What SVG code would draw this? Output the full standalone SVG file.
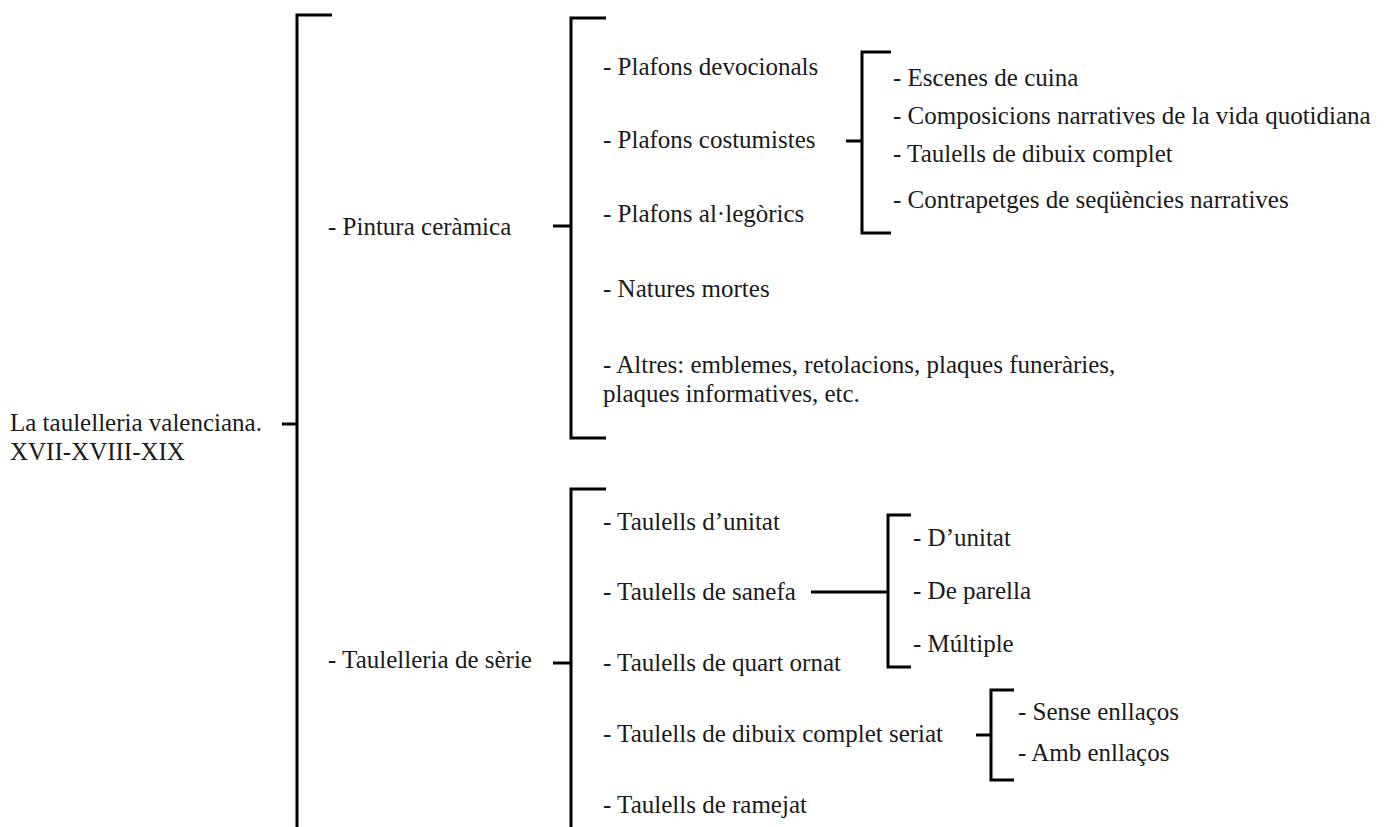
<svg xmlns="http://www.w3.org/2000/svg" width="1385" height="827" viewBox="0 0 1385 827">
<style>
.t{font-family:'Liberation Serif','Times New Roman',Times,'DejaVu Serif','Noto Serif',serif;font-size:25px;fill:#1a1a1a}
.br{fill:none;stroke:#000;stroke-width:3}
</style>
<rect width="1385" height="827" fill="#fff"/>
<g id="connectors">
<path class="br" d="M282,424 H297"/>
<path class="br" d="M332,15 H297 V827"/>
<path class="br" d="M553,226 H571"/>
<path class="br" d="M606,18 H571 V438 H606"/>
<path class="br" d="M846,141 H862"/>
<path class="br" d="M891,52 H862 V233 H891"/>
<path class="br" d="M553,663 H571"/>
<path class="br" d="M606,489 H571 V827"/>
<path class="br" d="M811,592 H888"/>
<path class="br" d="M911,515 H888 V667 H911"/>
<path class="br" d="M976,735 H991"/>
<path class="br" d="M1014,690 H991 V780 H1014"/>
</g>
<g class="t" font-family="Liberation Serif, serif">
<g id="root"><text x="10" y="431">La taulelleria valenciana.</text><text x="10" y="460">XVII-XVIII-XIX</text></g>
<g id="pintura"><text x="328" y="235">- Pintura ceràmica</text></g>
<g id="devocionals"><text x="603" y="75">- Plafons devocionals</text></g>
<g id="costumistes"><text x="603" y="148">- Plafons costumistes</text></g>
<g id="allegorics"><text x="603" y="222">- Plafons al·legòrics</text></g>
<g id="natures"><text x="603" y="297">- Natures mortes</text></g>
<g id="altres"><text x="603" y="373">- Altres: emblemes, retolacions, plaques funeràries,</text><text x="603" y="402">plaques informatives, etc.</text></g>
<g id="escenes"><text x="893" y="86">- Escenes de cuina</text></g>
<g id="composicions"><text x="893" y="124">- Composicions narratives de la vida quotidiana</text></g>
<g id="dibuix"><text x="893" y="162">- Taulells de dibuix complet</text></g>
<g id="contrapetges"><text x="893" y="208">- Contrapetges de seqüències narratives</text></g>
<g id="serie"><text x="328" y="668">- Taulelleria de sèrie</text></g>
<g id="unitat"><text x="603" y="530">- Taulells d’unitat</text></g>
<g id="sanefa"><text x="603" y="600">- Taulells de sanefa</text></g>
<g id="quart"><text x="603" y="671">- Taulells de quart ornat</text></g>
<g id="seriat"><text x="603" y="742">- Taulells de dibuix complet seriat</text></g>
<g id="ramejat"><text x="603" y="813">- Taulells de ramejat</text></g>
<g id="s-unitat"><text x="913" y="546">- D’unitat</text></g>
<g id="s-parella"><text x="913" y="599">- De parella</text></g>
<g id="s-multiple"><text x="913" y="652">- Múltiple</text></g>
<g id="s-sense"><text x="1018" y="720">- Sense enllaços</text></g>
<g id="s-amb"><text x="1018" y="761">- Amb enllaços</text></g>
</g>
</svg>
